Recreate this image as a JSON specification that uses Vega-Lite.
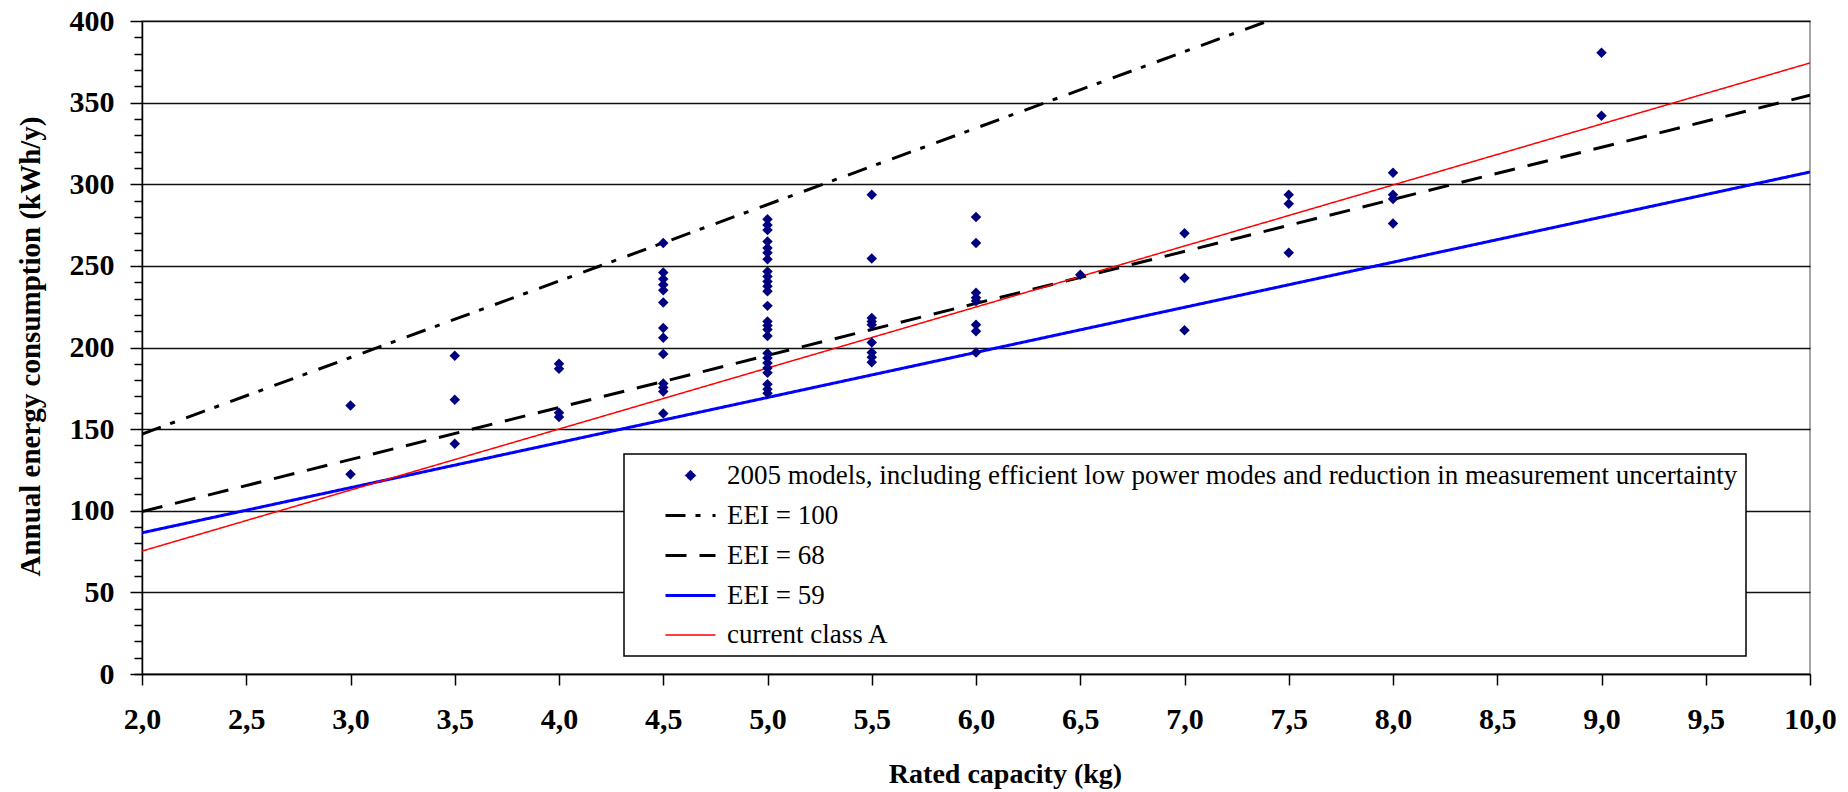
{
  "$schema": "https://vega.github.io/schema/vega-lite/v6.json",
  "width": 1668,
  "height": 653,
  "autosize": {"type": "none"},
  "padding": {"left": 142, "top": 21, "right": 38, "bottom": 118},
  "background": "white",
  "config": {
    "view": {"stroke": "#888888", "strokeWidth": 1.5},
    "locale": {"number": {"decimal": ",", "thousands": ".", "grouping": [3], "currency": ["", " €"]}},
    "axis": {
      "labelFont": "Liberation Serif", "labelFontWeight": "bold", "labelFontSize": 30, "labelColor": "#000000",
      "titleFont": "Liberation Serif", "titleFontWeight": "bold", "titleColor": "#000000",
      "domainColor": "#000000", "domainWidth": 1.5, "tickColor": "#000000", "tickWidth": 1.5
    },
    "legend": {
      "orient": "none", "legendX": 482, "legendY": 433,
      "labelFont": "Liberation Serif", "labelFontSize": 27, "labelColor": "#000000", "labelLimit": 0, "labelOffset": 10,
      "padding": 8, "rowPadding": 0, "symbolOffset": 32,
      "fillColor": "white", "strokeColor": "#000000", "strokeWidth": 1.5, "cornerRadius": 0
    }
  },
  "datasets": {
    "limits": [
      {"series": "EEI = 100", "capacity": 2, "energy": 147},
      {"series": "EEI = 100", "capacity": 7.4, "energy": 400},
      {"series": "EEI = 68", "capacity": 2, "energy": 99.5},
      {"series": "EEI = 68", "capacity": 10, "energy": 354.5},
      {"series": "EEI = 59", "capacity": 2, "energy": 86.5},
      {"series": "EEI = 59", "capacity": 10, "energy": 307.5},
      {"series": "current class A", "capacity": 2, "energy": 75.3},
      {"series": "current class A", "capacity": 10, "energy": 374.3}
    ],
    "models": [
      {"series": "2005 models, including efficient low power modes and reduction in measurement uncertainty", "capacity": 3, "energy": 164.5},
      {"series": "2005 models, including efficient low power modes and reduction in measurement uncertainty", "capacity": 3, "energy": 122.3},
      {"series": "2005 models, including efficient low power modes and reduction in measurement uncertainty", "capacity": 3.5, "energy": 195},
      {"series": "2005 models, including efficient low power modes and reduction in measurement uncertainty", "capacity": 3.5, "energy": 168},
      {"series": "2005 models, including efficient low power modes and reduction in measurement uncertainty", "capacity": 3.5, "energy": 141},
      {"series": "2005 models, including efficient low power modes and reduction in measurement uncertainty", "capacity": 4, "energy": 190},
      {"series": "2005 models, including efficient low power modes and reduction in measurement uncertainty", "capacity": 4, "energy": 187},
      {"series": "2005 models, including efficient low power modes and reduction in measurement uncertainty", "capacity": 4, "energy": 160},
      {"series": "2005 models, including efficient low power modes and reduction in measurement uncertainty", "capacity": 4, "energy": 157.5},
      {"series": "2005 models, including efficient low power modes and reduction in measurement uncertainty", "capacity": 4.5, "energy": 264},
      {"series": "2005 models, including efficient low power modes and reduction in measurement uncertainty", "capacity": 4.5, "energy": 246},
      {"series": "2005 models, including efficient low power modes and reduction in measurement uncertainty", "capacity": 4.5, "energy": 242},
      {"series": "2005 models, including efficient low power modes and reduction in measurement uncertainty", "capacity": 4.5, "energy": 238.5},
      {"series": "2005 models, including efficient low power modes and reduction in measurement uncertainty", "capacity": 4.5, "energy": 235},
      {"series": "2005 models, including efficient low power modes and reduction in measurement uncertainty", "capacity": 4.5, "energy": 227.5},
      {"series": "2005 models, including efficient low power modes and reduction in measurement uncertainty", "capacity": 4.5, "energy": 212},
      {"series": "2005 models, including efficient low power modes and reduction in measurement uncertainty", "capacity": 4.5, "energy": 206},
      {"series": "2005 models, including efficient low power modes and reduction in measurement uncertainty", "capacity": 4.5, "energy": 196},
      {"series": "2005 models, including efficient low power modes and reduction in measurement uncertainty", "capacity": 4.5, "energy": 178},
      {"series": "2005 models, including efficient low power modes and reduction in measurement uncertainty", "capacity": 4.5, "energy": 175.5},
      {"series": "2005 models, including efficient low power modes and reduction in measurement uncertainty", "capacity": 4.5, "energy": 173},
      {"series": "2005 models, including efficient low power modes and reduction in measurement uncertainty", "capacity": 4.5, "energy": 159.5},
      {"series": "2005 models, including efficient low power modes and reduction in measurement uncertainty", "capacity": 5, "energy": 278.5},
      {"series": "2005 models, including efficient low power modes and reduction in measurement uncertainty", "capacity": 5, "energy": 275},
      {"series": "2005 models, including efficient low power modes and reduction in measurement uncertainty", "capacity": 5, "energy": 272},
      {"series": "2005 models, including efficient low power modes and reduction in measurement uncertainty", "capacity": 5, "energy": 265},
      {"series": "2005 models, including efficient low power modes and reduction in measurement uncertainty", "capacity": 5, "energy": 261},
      {"series": "2005 models, including efficient low power modes and reduction in measurement uncertainty", "capacity": 5, "energy": 258},
      {"series": "2005 models, including efficient low power modes and reduction in measurement uncertainty", "capacity": 5, "energy": 254},
      {"series": "2005 models, including efficient low power modes and reduction in measurement uncertainty", "capacity": 5, "energy": 246.5},
      {"series": "2005 models, including efficient low power modes and reduction in measurement uncertainty", "capacity": 5, "energy": 243.5},
      {"series": "2005 models, including efficient low power modes and reduction in measurement uncertainty", "capacity": 5, "energy": 240.5},
      {"series": "2005 models, including efficient low power modes and reduction in measurement uncertainty", "capacity": 5, "energy": 237.5},
      {"series": "2005 models, including efficient low power modes and reduction in measurement uncertainty", "capacity": 5, "energy": 234.5},
      {"series": "2005 models, including efficient low power modes and reduction in measurement uncertainty", "capacity": 5, "energy": 225.5},
      {"series": "2005 models, including efficient low power modes and reduction in measurement uncertainty", "capacity": 5, "energy": 216},
      {"series": "2005 models, including efficient low power modes and reduction in measurement uncertainty", "capacity": 5, "energy": 213.5},
      {"series": "2005 models, including efficient low power modes and reduction in measurement uncertainty", "capacity": 5, "energy": 211},
      {"series": "2005 models, including efficient low power modes and reduction in measurement uncertainty", "capacity": 5, "energy": 207},
      {"series": "2005 models, including efficient low power modes and reduction in measurement uncertainty", "capacity": 5, "energy": 196.5},
      {"series": "2005 models, including efficient low power modes and reduction in measurement uncertainty", "capacity": 5, "energy": 193.5},
      {"series": "2005 models, including efficient low power modes and reduction in measurement uncertainty", "capacity": 5, "energy": 190.5},
      {"series": "2005 models, including efficient low power modes and reduction in measurement uncertainty", "capacity": 5, "energy": 187.5},
      {"series": "2005 models, including efficient low power modes and reduction in measurement uncertainty", "capacity": 5, "energy": 184.5},
      {"series": "2005 models, including efficient low power modes and reduction in measurement uncertainty", "capacity": 5, "energy": 177.5},
      {"series": "2005 models, including efficient low power modes and reduction in measurement uncertainty", "capacity": 5, "energy": 174.5},
      {"series": "2005 models, including efficient low power modes and reduction in measurement uncertainty", "capacity": 5, "energy": 172},
      {"series": "2005 models, including efficient low power modes and reduction in measurement uncertainty", "capacity": 5.5, "energy": 293.5},
      {"series": "2005 models, including efficient low power modes and reduction in measurement uncertainty", "capacity": 5.5, "energy": 254.5},
      {"series": "2005 models, including efficient low power modes and reduction in measurement uncertainty", "capacity": 5.5, "energy": 218},
      {"series": "2005 models, including efficient low power modes and reduction in measurement uncertainty", "capacity": 5.5, "energy": 216},
      {"series": "2005 models, including efficient low power modes and reduction in measurement uncertainty", "capacity": 5.5, "energy": 214},
      {"series": "2005 models, including efficient low power modes and reduction in measurement uncertainty", "capacity": 5.5, "energy": 203},
      {"series": "2005 models, including efficient low power modes and reduction in measurement uncertainty", "capacity": 5.5, "energy": 197},
      {"series": "2005 models, including efficient low power modes and reduction in measurement uncertainty", "capacity": 5.5, "energy": 194},
      {"series": "2005 models, including efficient low power modes and reduction in measurement uncertainty", "capacity": 5.5, "energy": 191},
      {"series": "2005 models, including efficient low power modes and reduction in measurement uncertainty", "capacity": 6, "energy": 280},
      {"series": "2005 models, including efficient low power modes and reduction in measurement uncertainty", "capacity": 6, "energy": 264},
      {"series": "2005 models, including efficient low power modes and reduction in measurement uncertainty", "capacity": 6, "energy": 233.5},
      {"series": "2005 models, including efficient low power modes and reduction in measurement uncertainty", "capacity": 6, "energy": 230.5},
      {"series": "2005 models, including efficient low power modes and reduction in measurement uncertainty", "capacity": 6, "energy": 228.5},
      {"series": "2005 models, including efficient low power modes and reduction in measurement uncertainty", "capacity": 6, "energy": 214},
      {"series": "2005 models, including efficient low power modes and reduction in measurement uncertainty", "capacity": 6, "energy": 210},
      {"series": "2005 models, including efficient low power modes and reduction in measurement uncertainty", "capacity": 6, "energy": 197},
      {"series": "2005 models, including efficient low power modes and reduction in measurement uncertainty", "capacity": 6.5, "energy": 244.5},
      {"series": "2005 models, including efficient low power modes and reduction in measurement uncertainty", "capacity": 7, "energy": 270},
      {"series": "2005 models, including efficient low power modes and reduction in measurement uncertainty", "capacity": 7, "energy": 242.5},
      {"series": "2005 models, including efficient low power modes and reduction in measurement uncertainty", "capacity": 7, "energy": 210.5},
      {"series": "2005 models, including efficient low power modes and reduction in measurement uncertainty", "capacity": 7.5, "energy": 293.5},
      {"series": "2005 models, including efficient low power modes and reduction in measurement uncertainty", "capacity": 7.5, "energy": 288},
      {"series": "2005 models, including efficient low power modes and reduction in measurement uncertainty", "capacity": 7.5, "energy": 258},
      {"series": "2005 models, including efficient low power modes and reduction in measurement uncertainty", "capacity": 8, "energy": 307},
      {"series": "2005 models, including efficient low power modes and reduction in measurement uncertainty", "capacity": 8, "energy": 293.5},
      {"series": "2005 models, including efficient low power modes and reduction in measurement uncertainty", "capacity": 8, "energy": 291},
      {"series": "2005 models, including efficient low power modes and reduction in measurement uncertainty", "capacity": 8, "energy": 276},
      {"series": "2005 models, including efficient low power modes and reduction in measurement uncertainty", "capacity": 9, "energy": 380.5},
      {"series": "2005 models, including efficient low power modes and reduction in measurement uncertainty", "capacity": 9, "energy": 342}
    ]
  },
  "resolve": {"axis": {"y": "independent"}},
  "layer": [
    {
      "data": {"name": "limits"},
      "mark": {"type": "line", "clip": true},
      "encoding": {
        "x": {
          "field": "capacity", "type": "quantitative",
          "scale": {"domain": [2, 10], "nice": false, "zero": false},
          "axis": {
            "values": [2, 2.5, 3, 3.5, 4, 4.5, 5, 5.5, 6, 6.5, 7, 7.5, 8, 8.5, 9, 9.5, 10],
            "format": ".1f", "grid": false, "tickSize": 11, "labelPadding": 19,
            "labelOverlap": false, "labelFlush": false,
            "title": "Rated capacity (kg)", "titleFontSize": 28,
            "titleX": 863, "titleY": 100, "titleBaseline": "middle", "titleAlign": "center"
          }
        },
        "y": {
          "field": "energy", "type": "quantitative",
          "scale": {"domain": [0, 400], "nice": false},
          "axis": {
            "orient": "left",
            "values": [0, 50, 100, 150, 200, 250, 300, 350, 400],
            "grid": true, "gridColor": "#111111", "gridWidth": 1.3,
            "tickSize": 12, "labelPadding": 16, "labelOverlap": false, "labelFlush": false,
            "title": "Annual energy consumption (kWh/y)", "titleFontSize": 29,
            "titleX": -112, "titleY": 325, "titleAngle": 270, "titleBaseline": "middle", "titleAlign": "center"
          }
        },
        "color": {
          "field": "series", "type": "nominal",
          "scale": {
            "domain": ["2005 models, including efficient low power modes and reduction in measurement uncertainty", "EEI = 100", "EEI = 68", "EEI = 59", "current class A"],
            "range": ["#000080", "#000000", "#000000", "#0000FF", "#FF0000"]
          },
          "legend": {
            "title": null,
            "encode": {"symbols": {"update": {"fill": {"scale": "color", "field": "value"}, "stroke": {"scale": "color", "field": "value"}}}}
          }
        },
        "strokeDash": {
          "field": "series", "type": "nominal",
          "scale": {
            "domain": ["2005 models, including efficient low power modes and reduction in measurement uncertainty", "EEI = 100", "EEI = 68", "EEI = 59", "current class A"],
            "range": [[1, 0], [20, 10, 5, 12], [21, 13], [1, 0], [1, 0]]
          },
          "legend": {"title": null}
        },
        "strokeWidth": {
          "field": "series", "type": "nominal",
          "scale": {
            "type": "ordinal",
            "domain": ["2005 models, including efficient low power modes and reduction in measurement uncertainty", "EEI = 100", "EEI = 68", "EEI = 59", "current class A"],
            "range": [1, 3, 3, 3, 1.5]
          },
          "legend": {"title": null}
        }
      }
    },
    {
      "data": {"name": "models"},
      "mark": {"type": "point", "filled": true, "opacity": 1},
      "encoding": {
        "x": {"field": "capacity", "type": "quantitative"},
        "y": {
          "field": "energy", "type": "quantitative",
          "axis": {
            "orient": "left",
            "values": [0, 10, 20, 30, 40, 60, 70, 80, 90, 110, 120, 130, 140, 160, 170, 180, 190, 210, 220, 230, 240, 260, 270, 280, 290, 310, 320, 330, 340, 360, 370, 380, 390],
            "labels": false, "domain": false, "grid": false, "title": null, "tickSize": 8
          }
        },
        "color": {
          "field": "series", "type": "nominal",
          "legend": {
            "title": null,
            "encode": {"symbols": {"update": {"fill": {"scale": "color", "field": "value"}, "stroke": {"scale": "color", "field": "value"}}}}
          }
        },
        "shape": {
          "field": "series", "type": "nominal",
          "scale": {
            "domain": ["2005 models, including efficient low power modes and reduction in measurement uncertainty", "EEI = 100", "EEI = 68", "EEI = 59", "current class A"],
            "range": ["diamond", "stroke", "stroke", "stroke", "stroke"]
          },
          "legend": {"title": null}
        },
        "size": {
          "field": "series", "type": "nominal",
          "scale": {
            "type": "ordinal",
            "domain": ["2005 models, including efficient low power modes and reduction in measurement uncertainty", "EEI = 100", "EEI = 68", "EEI = 59", "current class A"],
            "range": [110, 2500, 2500, 2500, 2500]
          },
          "legend": {"title": null}
        }
      }
    }
  ]
}
